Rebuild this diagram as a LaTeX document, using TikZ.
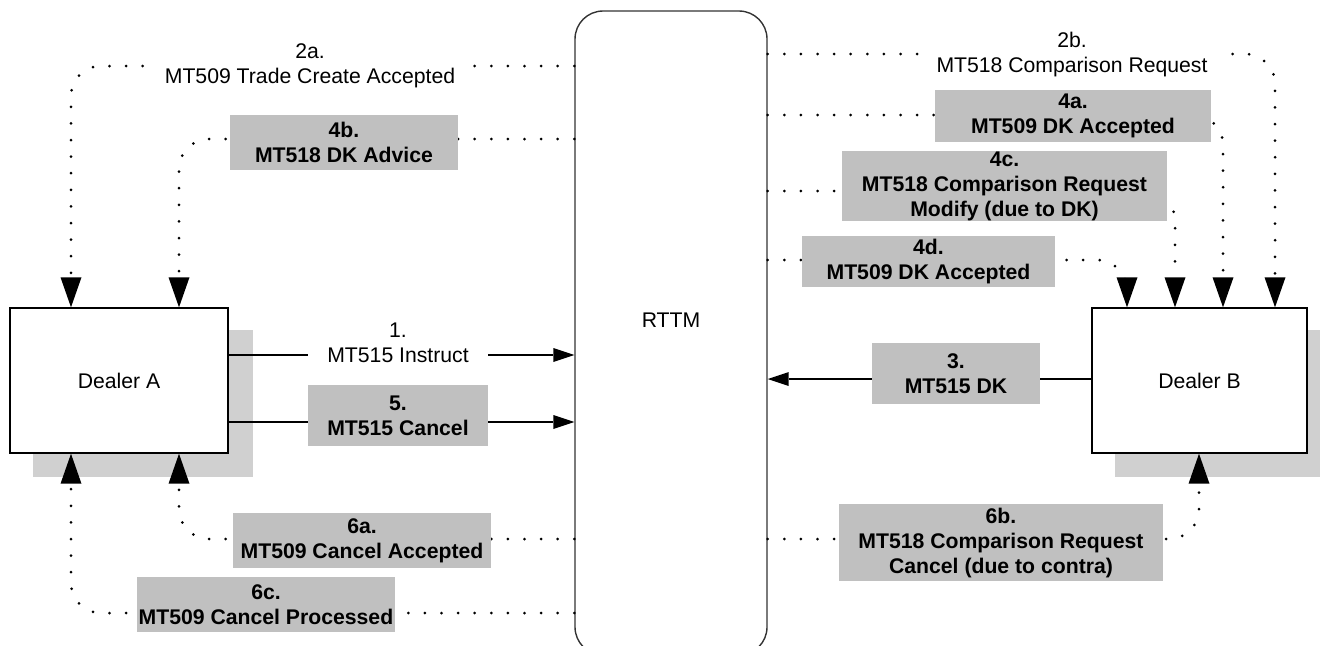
\documentclass[tikz,border=0pt]{standalone}
\usepackage{fontspec}
\setmainfont{Liberation Sans}
\usetikzlibrary{arrows.meta,backgrounds}
\definecolor{lblgray}{HTML}{C0C0C0}
\definecolor{shadowgray}{HTML}{D0D0D0}
\newcommand\dgfont{\fontsize{10.6pt}{12.5pt}\selectfont}
\begin{document}
\begin{tikzpicture}[x=0.5pt,y=-0.5pt,
  font=\dgfont,
  dealer/.style={draw=black, line width=0.7pt, fill=white, minimum height=72.5pt, inner sep=0pt},
  rttmbox/.style={draw=black!80, line width=0.7pt, rounded corners=14pt, minimum width=96pt, minimum height=322pt, inner sep=0pt},
  msg/.style={fill=lblgray, font=\dgfont\bfseries, align=center, inner sep=0pt},
  plainmsg/.style={fill=white, align=center, inner xsep=8pt, inner ysep=2pt},
  dotline/.style={line width=1.5pt, dash pattern=on 0pt off 8.3pt, line cap=round, rounded corners=15pt},
  solidline/.style={line width=0.7pt},
  htip/.style={-{Triangle[length=10.5pt,width=7pt,line width=0pt]}},
  vtip/.style={-{Triangle[length=15pt,width=10.5pt,line width=0pt]}}
]
\useasboundingbox (0,0) rectangle (1320,645);

% main nodes
\node[dealer, minimum width=109pt] (dA) at (119,380.5) {Dealer A};
\node[dealer, minimum width=107.5pt] (dB) at (1199.5,380.5) {Dealer B};
\node[rttmbox] (rttm) at (671,333) {};
\node (rttmtext) at (671,320) {RTTM};

\begin{scope}[on background layer]
  \fill[shadowgray] ([shift={(24,23)}]dA.north west) rectangle ([shift={(24,23)}]dA.south east);
  \fill[shadowgray] ([shift={(24,23)}]dB.north west) rectangle ([shift={(24,23)}]dB.south east);
\end{scope}

% route coordinates
\coordinate (k2a) at (71,66);
\coordinate (k4b) at (179,139);
\coordinate (k6a) at (179,539);
\coordinate (k6c) at (71,613);
\coordinate (k2b) at (1275,54);
\coordinate (k4a) at (1223,115);
\coordinate (k4c) at (1175,191);
\coordinate (k4d) at (1127,260);
\coordinate (k6b) at (1199,539);
\coordinate (k1) at (0,355);
\coordinate (k5) at (0,422);
\coordinate (k3) at (0,379);

% dotted connectors
\draw[dotline,vtip] (rttm.west |- k2a) -| (dA.north -| k2a);
\draw[dotline,vtip] (rttm.west |- k4b) -| (dA.north -| k4b);
\draw[dotline,vtip] (rttm.west |- k6a) -| (dA.south -| k6a);
\draw[dotline,vtip] (rttm.west |- k6c) -| (dA.south -| k6c);
\draw[dotline,vtip] (rttm.east |- k2b) -| (dB.north -| k2b);
\draw[dotline,vtip] (rttm.east |- k4a) -| (dB.north -| k4a);
\draw[dotline,vtip] (rttm.east |- k4c) -| (dB.north -| k4c);
\draw[dotline,vtip] (rttm.east |- k4d) -| (dB.north -| k4d);
\draw[dotline,vtip] (rttm.east |- k6b) -| (dB.south -| k6b);

% solid connectors
\draw[solidline,htip] (dA.east |- k1) -- (rttm.west |- k1);
\draw[solidline,htip] (dA.east |- k5) -- (rttm.west |- k5);
\draw[solidline,htip] (dB.west |- k3) -- (rttm.east |- k3);

% labels
\node[plainmsg, inner xsep=0pt, minimum width=90pt, minimum height=27pt] (l1) at (398,342.5) {1.\\MT515 Instruct};
\node[plainmsg] (l2a) at (310,66) {2a.\\MT509 Trade Create Accepted};
\node[plainmsg] (l2b) at (1072,55) {2b.\\MT518 Comparison Request};
\node[msg, minimum width=114pt, minimum height=27.5pt] (l4b) at (344,142.5) {4b.\\MT518 DK Advice};
\node[msg, minimum width=138pt, minimum height=26pt] (l4a) at (1073,116) {4a.\\MT509 DK Accepted};
\node[msg, minimum width=162.5pt, minimum height=35pt] (l4c) at (1004.5,186) {4c.\\MT518 Comparison Request\\Modify (due to DK)};
\node[msg, minimum width=126.5pt, minimum height=25.5pt] (l4d) at (928.5,261.5) {4d.\\MT509 DK Accepted};
\node[msg, minimum width=90pt, minimum height=30.5pt] (l5) at (398,415.5) {5.\\MT515 Cancel};
\node[msg, minimum width=84pt, minimum height=30.5pt] (l3) at (956,373.5) {3.\\MT515 DK};
\node[msg, minimum width=129pt, minimum height=27.5pt] (l6a) at (362,540.5) {6a.\\MT509 Cancel Accepted};
\node[msg, minimum width=129pt, minimum height=27.5pt] (l6c) at (266,604.5) {6c.\\MT509 Cancel Processed};
\node[msg, minimum width=162pt, minimum height=38.5pt] (l6b) at (1001,542.5) {6b.\\MT518 Comparison Request\\Cancel (due to contra)};
\end{tikzpicture}
\end{document}
